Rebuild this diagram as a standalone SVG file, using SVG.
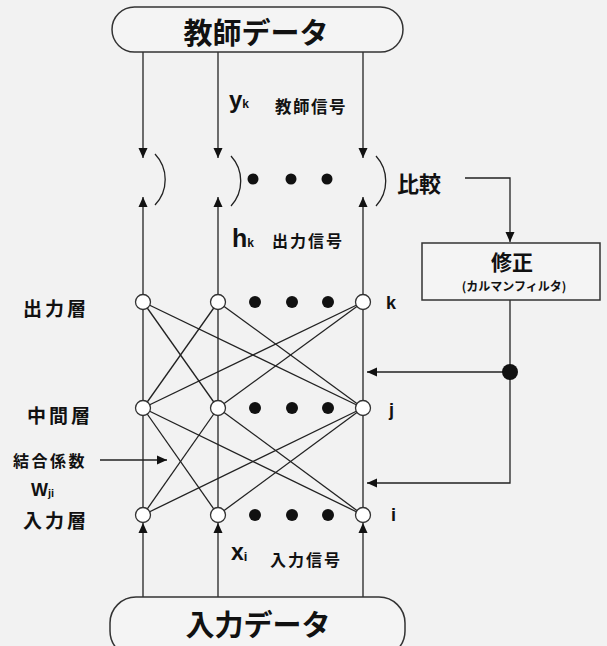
<svg xmlns="http://www.w3.org/2000/svg" width="607" height="646" viewBox="0 0 607 646">
<style>
.bg{fill:#f2f2f2}
.ln{stroke:#222;stroke-width:1.3;fill:none}
.box{fill:#f4f4f4;stroke:#333;stroke-width:1.5}
.nd{fill:#fff;stroke:#333;stroke-width:1.3}
.dot{fill:#111}
.jp{font-family:"Noto Sans CJK JP","Noto Sans CJK SC",sans-serif;font-weight:bold;fill:#111}
.la{font-family:"Liberation Sans",Arial,sans-serif;font-weight:bold;fill:#111}
</style>
<defs>
<marker id="ah" markerUnits="userSpaceOnUse" markerWidth="10" markerHeight="10" refX="10" refY="5" orient="auto">
<path d="M0,0.5 L10,5 L0,9.5 z" fill="#111"/>
</marker>
</defs>
<rect class="bg" x="0" y="0" width="607" height="646"/>

<g id="connectors">
<line class="ln" x1="143" y1="52" x2="143" y2="158" marker-end="url(#ah)"/>
<line class="ln" x1="218" y1="52" x2="218" y2="158" marker-end="url(#ah)"/>
<line class="ln" x1="363" y1="52" x2="363" y2="158" marker-end="url(#ah)"/>
<line class="ln" x1="143" y1="515" x2="143" y2="197" marker-end="url(#ah)"/>
<line class="ln" x1="218" y1="515" x2="218" y2="197" marker-end="url(#ah)"/>
<line class="ln" x1="363" y1="515" x2="363" y2="197" marker-end="url(#ah)"/>
<line class="ln" x1="143" y1="597" x2="143" y2="523" marker-end="url(#ah)"/>
<line class="ln" x1="218" y1="597" x2="218" y2="523" marker-end="url(#ah)"/>
<line class="ln" x1="363" y1="597" x2="363" y2="523" marker-end="url(#ah)"/>
<path class="ln" d="M155,154 A37,37 0 0 1 155,205"/>
<path class="ln" d="M231,156 A37,37 0 0 1 231,206"/>
<path class="ln" d="M376,156 A37,37 0 0 1 376,206"/>
<line class="ln" x1="143" y1="302" x2="218" y2="408"/>
<line class="ln" x1="143" y1="302" x2="363" y2="408"/>
<line class="ln" x1="218" y1="302" x2="143" y2="408"/>
<line class="ln" x1="218" y1="302" x2="363" y2="408"/>
<line class="ln" x1="363" y1="302" x2="143" y2="408"/>
<line class="ln" x1="363" y1="302" x2="218" y2="408"/>
<line class="ln" x1="143" y1="408" x2="218" y2="515"/>
<line class="ln" x1="143" y1="408" x2="363" y2="515"/>
<line class="ln" x1="218" y1="408" x2="143" y2="515"/>
<line class="ln" x1="218" y1="408" x2="363" y2="515"/>
<line class="ln" x1="363" y1="408" x2="143" y2="515"/>
<line class="ln" x1="363" y1="408" x2="218" y2="515"/>
<path class="ln" d="M465,178 H510 V242" marker-end="url(#ah)"/>
<line class="ln" x1="510" y1="300" x2="510" y2="372"/>
<line class="ln" x1="510" y1="372" x2="367" y2="372" marker-end="url(#ah)"/>
<path class="ln" d="M510,372 V483 H367" marker-end="url(#ah)"/>
<circle class="dot" cx="510" cy="372" r="8"/>
<line class="ln" x1="100" y1="460" x2="167" y2="460" marker-end="url(#ah)"/>
</g>

<g id="teacher-data">
<rect class="box" x="112" y="7" width="291" height="45" rx="22.5"/>
<text class="jp" x="256" y="31" font-size="29" text-anchor="middle" dominant-baseline="central">教師データ</text>
</g>

<g id="input-data">
<rect class="box" x="110" y="597" width="295" height="60" rx="26"/>
<text class="jp" x="258" y="623" font-size="29" text-anchor="middle" dominant-baseline="central">入力データ</text>
</g>

<g id="correction">
<rect class="box" x="422" y="243" width="178" height="57"/>
<text class="jp" x="512" y="261" font-size="21" text-anchor="middle" dominant-baseline="central">修正</text>
<text class="jp" x="514" y="285" font-size="12" text-anchor="middle" dominant-baseline="central">(カルマンフィルタ)</text>
</g>

<g id="compare-row">
<circle class="dot" cx="253" cy="179" r="5.5"/>
<circle class="dot" cx="291" cy="179" r="5.5"/>
<circle class="dot" cx="327" cy="179" r="5.5"/>
<text class="jp" x="397" y="182" font-size="22" dominant-baseline="central">比較</text>
</g>

<g id="output-layer">
<circle class="nd" cx="143" cy="302" r="7.5"/>
<circle class="nd" cx="218" cy="302" r="7.5"/>
<circle class="nd" cx="363" cy="302" r="7.5"/>
<circle class="dot" cx="255" cy="302" r="6"/>
<circle class="dot" cx="292" cy="302" r="6"/>
<circle class="dot" cx="328" cy="302" r="6"/>
</g>

<g id="middle-layer">
<circle class="nd" cx="143" cy="408" r="7.5"/>
<circle class="nd" cx="218" cy="408" r="7.5"/>
<circle class="nd" cx="363" cy="408" r="7.5"/>
<circle class="dot" cx="255" cy="408" r="6"/>
<circle class="dot" cx="292" cy="408" r="6"/>
<circle class="dot" cx="328" cy="408" r="6"/>
</g>

<g id="input-layer">
<circle class="nd" cx="143" cy="515" r="7.5"/>
<circle class="nd" cx="218" cy="515" r="7.5"/>
<circle class="nd" cx="363" cy="515" r="7.5"/>
<circle class="dot" cx="255" cy="515" r="6"/>
<circle class="dot" cx="292" cy="515" r="6"/>
<circle class="dot" cx="328" cy="515" r="6"/>
</g>

<g id="labels">
<text class="la" x="229" y="108" font-size="24">y<tspan font-size="12" dy="0">k</tspan></text>
<text class="jp" x="275" y="106" font-size="16.5" letter-spacing="1.5" dominant-baseline="central">教師信号</text>
<text class="la" x="232" y="247" font-size="25">h<tspan font-size="12" dy="0">k</tspan></text>
<text class="jp" x="272" y="240" font-size="16" letter-spacing="2" dominant-baseline="central">出力信号</text>
<text class="la" x="231" y="560" font-size="23">x<tspan font-size="13" dy="1">i</tspan></text>
<text class="jp" x="270" y="559" font-size="16" letter-spacing="2" dominant-baseline="central">入力信号</text>
<text class="jp" x="23" y="307" font-size="19" letter-spacing="3" dominant-baseline="central">出力層</text>
<text class="jp" x="27" y="414" font-size="19" letter-spacing="3" dominant-baseline="central">中間層</text>
<text class="jp" x="13" y="460" font-size="16" letter-spacing="2.5" dominant-baseline="central">結合係数</text>
<text class="la" x="31" y="496" font-size="18">W<tspan font-size="11" dy="1">ji</tspan></text>
<text class="jp" x="23" y="519" font-size="19" letter-spacing="3" dominant-baseline="central">入力層</text>
<text class="la" x="386" y="309" font-size="18">k</text>
<text class="la" x="389" y="416" font-size="18">j</text>
<text class="la" x="391" y="521" font-size="18">i</text>
</g>
</svg>
